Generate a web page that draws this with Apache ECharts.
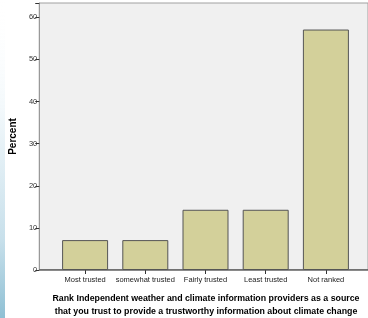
<!DOCTYPE html>
<html>
<head>
<meta charset="utf-8">
<script src="https://cdn.jsdelivr.net/npm/echarts@6/dist/echarts.min.js"></script>
<style>
  html, body { margin: 0; padding: 0; background: #fff; }
  #chart { width: 368px; height: 318px; }
</style>
</head>
<body>
<div id="chart"></div>
<script>
const categories = ["Most trusted", "somewhat trusted", "Fairly trusted", "Least trusted", "Not ranked"];
const percentValues = [7.1, 7.1, 14.3, 14.3, 57.1];
const yTicks = [0, 10, 20, 30, 40, 50, 60];
const xTitle = "Rank Independent weather and climate information providers as a source\nthat you trust to provide a trustworthy information about climate change";

const chart = echarts.init(document.getElementById("chart"));
const yMax = 63.4;
chart.setOption({
    animation: false,
    textStyle: { fontFamily: "Liberation Sans, Arial, sans-serif" },
    graphic: [{
        type: "rect",
        shape: { x: 0, y: 0, width: 5, height: 318 },
        style: {
            fill: new echarts.graphic.LinearGradient(0, 0, 0, 1, [
                { offset: 0, color: "rgba(255,255,255,0)" },
                { offset: 0.35, color: "#f2f8fb" },
                { offset: 0.75, color: "#c8e0eb" },
                { offset: 1, color: "#8fc0d4" }
            ])
        },
        silent: true
    }, {
        // x axis title
        type: "text",
        x: 206,
        y: 292,
        style: {
            text: xTitle,
            textAlign: "center",
            font: "bold 8.8px 'Liberation Sans', Arial, sans-serif",
            fill: "#000",
            lineHeight: 13
        }
    }],
    grid: [
        { left: 38, right: 0, top: 3, bottom: 48, show: true, backgroundColor: "#f0f0f0", borderColor: "#a0a0a0", borderWidth: 1 },
        { left: 55, right: 12, top: 3, bottom: 48 }
    ],
    xAxis: [
        { gridIndex: 0, type: "value", show: false, min: 0, max: 1 },
        {
            gridIndex: 1,
            type: "category",
            data: categories,
            axisLine: { show: false },
            axisTick: { show: true, alignWithLabel: true, length: 4, lineStyle: { color: "#333" } },
            axisLabel: { fontSize: 7.5, color: "#222", margin: 6, interval: 0 }
        }
    ],
    yAxis: [
        {
            gridIndex: 0,
            type: "value",
            min: 0,
            max: yMax,
            interval: 10,
            name: "Percent",
            nameLocation: "middle",
            nameRotate: 90,
            nameGap: 21,
            nameTextStyle: { fontSize: 10, fontWeight: "bold", color: "#000" },
            axisLine: { show: true, lineStyle: { color: "#999" } },
            axisTick: { show: true, length: 4, lineStyle: { color: "#333" } },
            splitLine: { show: false },
            axisLabel: {
                fontSize: 7.5, color: "#333", margin: 2,
                formatter: function (v) { return yTicks.indexOf(v) >= 0 ? String(v) : ""; }
            }
        },
        { gridIndex: 1, type: "value", min: 0, max: yMax, show: false }
    ],
    series: [
        {
            // bottom axis line
            type: "line",
            xAxisIndex: 0,
            yAxisIndex: 0,
            data: [[0, 0], [1, 0]],
            symbol: "none",
            lineStyle: { color: "#555", width: 1.5 },
            z: 1
        },
        {
            type: "bar",
            xAxisIndex: 1,
            yAxisIndex: 1,
            data: percentValues,
            barWidth: 46,
            itemStyle: { color: "#d3d09a", borderColor: "#555", borderWidth: 1 },
            z: 3
        }
    ]
});
</script>
</body>
</html>
